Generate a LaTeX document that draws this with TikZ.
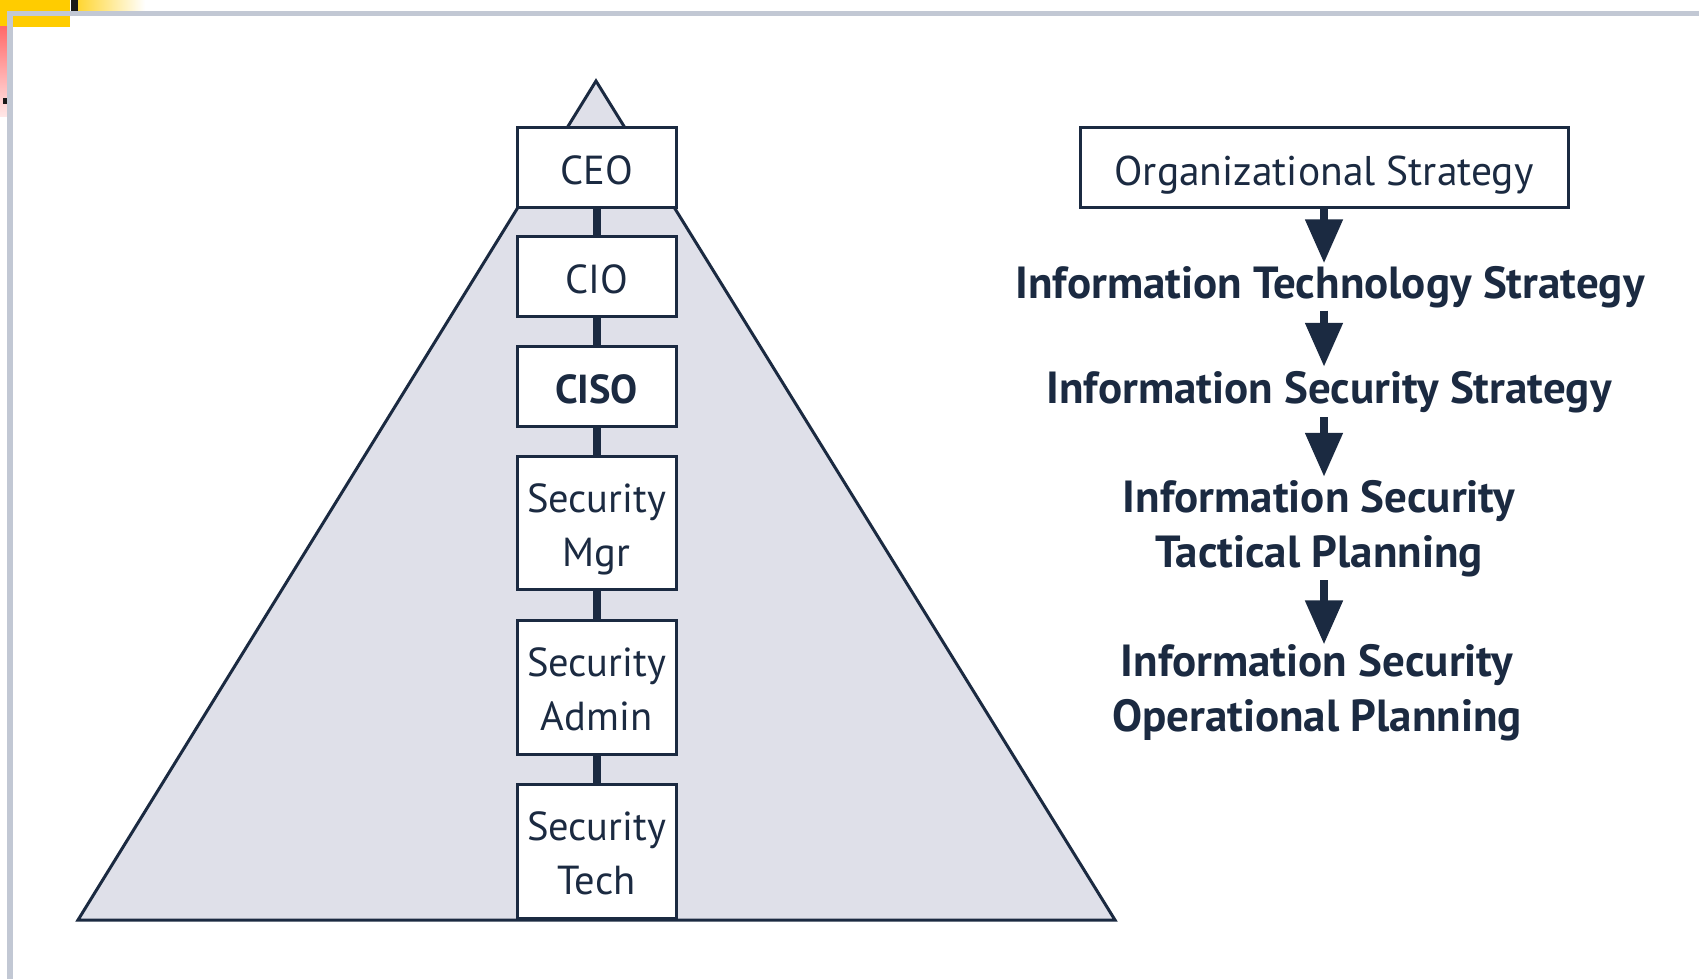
\documentclass[tikz,border=0pt]{standalone}
\usepackage{fontspec}
\setmainfont{PT Sans}
\usetikzlibrary{arrows.meta}
\definecolor{navy}{HTML}{1B2A41}
\definecolor{trifill}{HTML}{DFE0E9}
\definecolor{framec}{HTML}{C2C8D4}
\definecolor{yel}{HTML}{FFCC00}
\definecolor{redd}{HTML}{FF6A6A}
\newcommand{\hstrut}{\rule{0pt}{42pt}}
\newcommand{\lstrut}{\rule{0pt}{33.5pt}}
\begin{document}
\begin{tikzpicture}[x=1pt,y=-1pt,
  box/.style={draw=navy, line width=3pt, fill=white, minimum width=159pt, inner sep=0pt,
    text width=155pt, align=center, font=\fontsize{40.5}{54}\selectfont, text=navy},
  onebox/.style={box, minimum height=80pt, text height=34pt, text depth=0pt},
  conn/.style={draw=navy, line width=8pt},
  lbl/.style={font=\bfseries\fontsize{45}{55}\selectfont, text=navy, align=center, inner sep=0pt},
  arr/.style={draw=navy, line width=8pt, -{Triangle[width=36pt,length=44pt]}}]
\useasboundingbox (0,0) rectangle (1699,979);
\fill[white] (0,0) rectangle (1699,979);
% corner decorations
\fill[yel] (0,0) rectangle (70,27);
\fill[black!90] (71,0) rectangle (78,11);
\shade[left color=yel!80, right color=white] (78,0) rectangle (145,11);
\shade[top color=redd, bottom color=redd!15] (0,27) rectangle (7,117);
\fill[black!90] (3,98) rectangle (7,104);
% frame
\fill[framec] (7,11) rectangle (1699,16);
\fill[framec] (7,11) rectangle (13,979);
% pyramid
\coordinate (apex) at (596,81);
\coordinate (bl) at (78,920);
\coordinate (br) at (1115,920);
\draw[navy, line width=3pt, fill=trifill, line join=miter] (apex) -- (br) -- (bl) -- cycle;
% boxes
\node[onebox] (ceo) at (596.5,167.5) {CEO};
\node[onebox] (cio) at (596.5,276.5) {CIO};
\node[onebox, font=\bfseries\fontsize{40.5}{54}\selectfont] (ciso) at (596.5,386.5) {CISO};
\node[box, minimum height=133pt] (mgr) at (596.5,522.5) {\hstrut Security\\Mgr};
\node[box, minimum height=134pt] (admin) at (596.5,687) {\lstrut Security\\Admin};
\node[box, minimum height=134pt] (tech) at (596.5,851) {\lstrut Security\\Tech};
\draw[conn] (ceo) -- (cio);
\draw[conn] (cio) -- (ciso);
\draw[conn] (ciso) -- (mgr);
\draw[conn] (mgr) -- (admin);
\draw[conn] (admin) -- (tech);
% right side
\node[draw=navy, line width=3pt, minimum width=488pt, minimum height=79pt, inner sep=0pt,
  text height=35pt, text depth=0pt, font=\fontsize{41.5}{54}\selectfont, text=navy] (org) at (1324,167.5) {Organizational Strategy};
\node[lbl, minimum height=47pt] (its) at (1330,287) {Information Technology Strategy};
\node[lbl, minimum height=50pt] (iss) at (1329,392) {Information Security Strategy};
\node[lbl, minimum height=103pt] (ist) at (1319,528.5) {Information Security\\Tactical Planning};
\node[lbl, minimum height=96pt] (iso) at (1317,693) {Information Security\\Operational Planning};
\draw[arr] (org.south) -- (its.north -| org.south);
\draw[arr] (its.south -| org.south) -- (iss.north -| org.south);
\draw[arr] (iss.south -| org.south) -- (ist.north -| org.south);
\draw[arr] (ist.south -| org.south) -- (iso.north -| org.south);
\end{tikzpicture}
\end{document}
